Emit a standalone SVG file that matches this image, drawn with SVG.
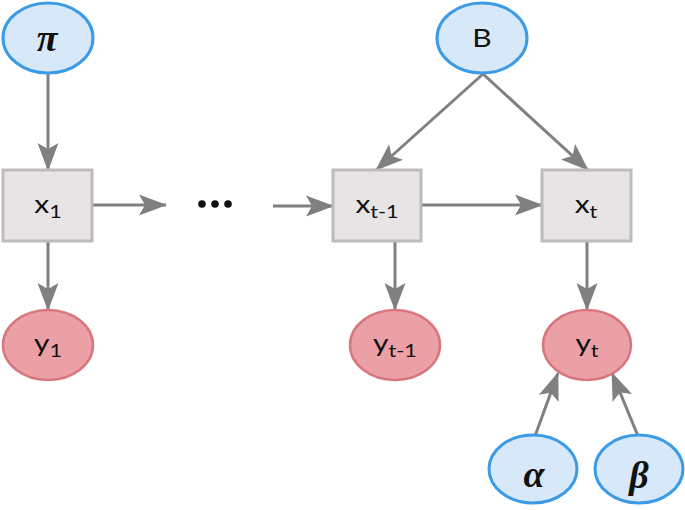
<svg xmlns="http://www.w3.org/2000/svg" width="685" height="510" viewBox="0 0 685 510">
<defs>
<marker id="arr" viewBox="0 0 28 22" refX="27" refY="11" markerWidth="28" markerHeight="22" markerUnits="userSpaceOnUse" orient="auto">
<path d="M0,0.5 L28,11 L0,21.5 L6,11 z" fill="#808080"/>
</marker>
<style>
.blue{fill:#d7e8f8;stroke:#3b9be6;stroke-width:3}
.pink{fill:#eba0a6;stroke:#d8767e;stroke-width:2.5}
.box{fill:#e8e4e6;stroke:#bdbbbc;stroke-width:3}
.lbl{font-family:Lato,"Liberation Sans",sans-serif;font-size:25px;fill:#111;text-anchor:middle}
.sub{font-size:18px}
.greek{font-family:"Liberation Serif",serif;font-size:38px;font-weight:bold;font-style:italic;fill:#111;text-anchor:middle}
.edge{stroke:#808080;stroke-width:3;fill:none;marker-end:url(#arr)}
</style>
</defs>
<g id="connectors">
<line class="edge" x1="48" y1="74" x2="48" y2="170"/>
<line class="edge" x1="92" y1="205" x2="166" y2="205"/>
<line class="edge" x1="273" y1="206" x2="333" y2="206"/>
<line class="edge" x1="421" y1="205" x2="542" y2="205"/>
<line class="edge" x1="483" y1="74" x2="376" y2="170"/>
<line class="edge" x1="483" y1="74" x2="588" y2="170"/>
<line class="edge" x1="48" y1="241" x2="48" y2="310"/>
<line class="edge" x1="395" y1="241" x2="395" y2="310"/>
<line class="edge" x1="587" y1="241" x2="587" y2="310"/>
<line class="edge" x1="535" y1="436" x2="558" y2="373"/>
<line class="edge" x1="638" y1="436" x2="612" y2="373"/>
</g>
<g id="pi"><ellipse class="blue" cx="48" cy="38" rx="45" ry="35"/><text class="greek" x="47" y="51">π</text></g>
<g id="B"><ellipse class="blue" cx="482" cy="38" rx="45" ry="35"/><text class="lbl" transform="translate(482,47) scale(1.2,1)">B</text></g>
<g id="x1"><rect class="box" x="3" y="170" width="89" height="71"/><text class="lbl" transform="translate(48,213) scale(1.2,1)">x<tspan class="sub" dy="5">1</tspan></text></g>
<g id="dots"><circle cx="202" cy="204" r="3.8" fill="#111"/><circle cx="215" cy="204" r="3.8" fill="#111"/><circle cx="228" cy="204" r="3.8" fill="#111"/></g>
<g id="xt-1"><rect class="box" x="333" y="170" width="88" height="71"/><text class="lbl" transform="translate(377,213) scale(1.2,1)">x<tspan class="sub" dy="5">t-1</tspan></text></g>
<g id="xt"><rect class="box" x="542" y="170" width="89" height="71"/><text class="lbl" transform="translate(586,213) scale(1.2,1)">x<tspan class="sub" dy="5">t</tspan></text></g>
<g id="y1"><ellipse class="pink" cx="48" cy="345" rx="45" ry="35"/><text class="lbl" transform="translate(48,352) scale(1.2,1)">y<tspan class="sub" dy="5">1</tspan></text></g>
<g id="yt-1"><ellipse class="pink" cx="395" cy="345" rx="45" ry="35"/><text class="lbl" transform="translate(395,352) scale(1.2,1)">y<tspan class="sub" dy="5">t-1</tspan></text></g>
<g id="yt"><ellipse class="pink" cx="587" cy="345" rx="44" ry="35"/><text class="lbl" transform="translate(587,352) scale(1.2,1)">y<tspan class="sub" dy="5">t</tspan></text></g>
<g id="alpha"><ellipse class="blue" cx="533" cy="469" rx="44" ry="34"/><text class="greek" x="534" y="487">α</text></g>
<g id="beta"><ellipse class="blue" cx="639" cy="469" rx="44" ry="34"/><text class="greek" x="639" y="488">β</text></g>
</svg>
